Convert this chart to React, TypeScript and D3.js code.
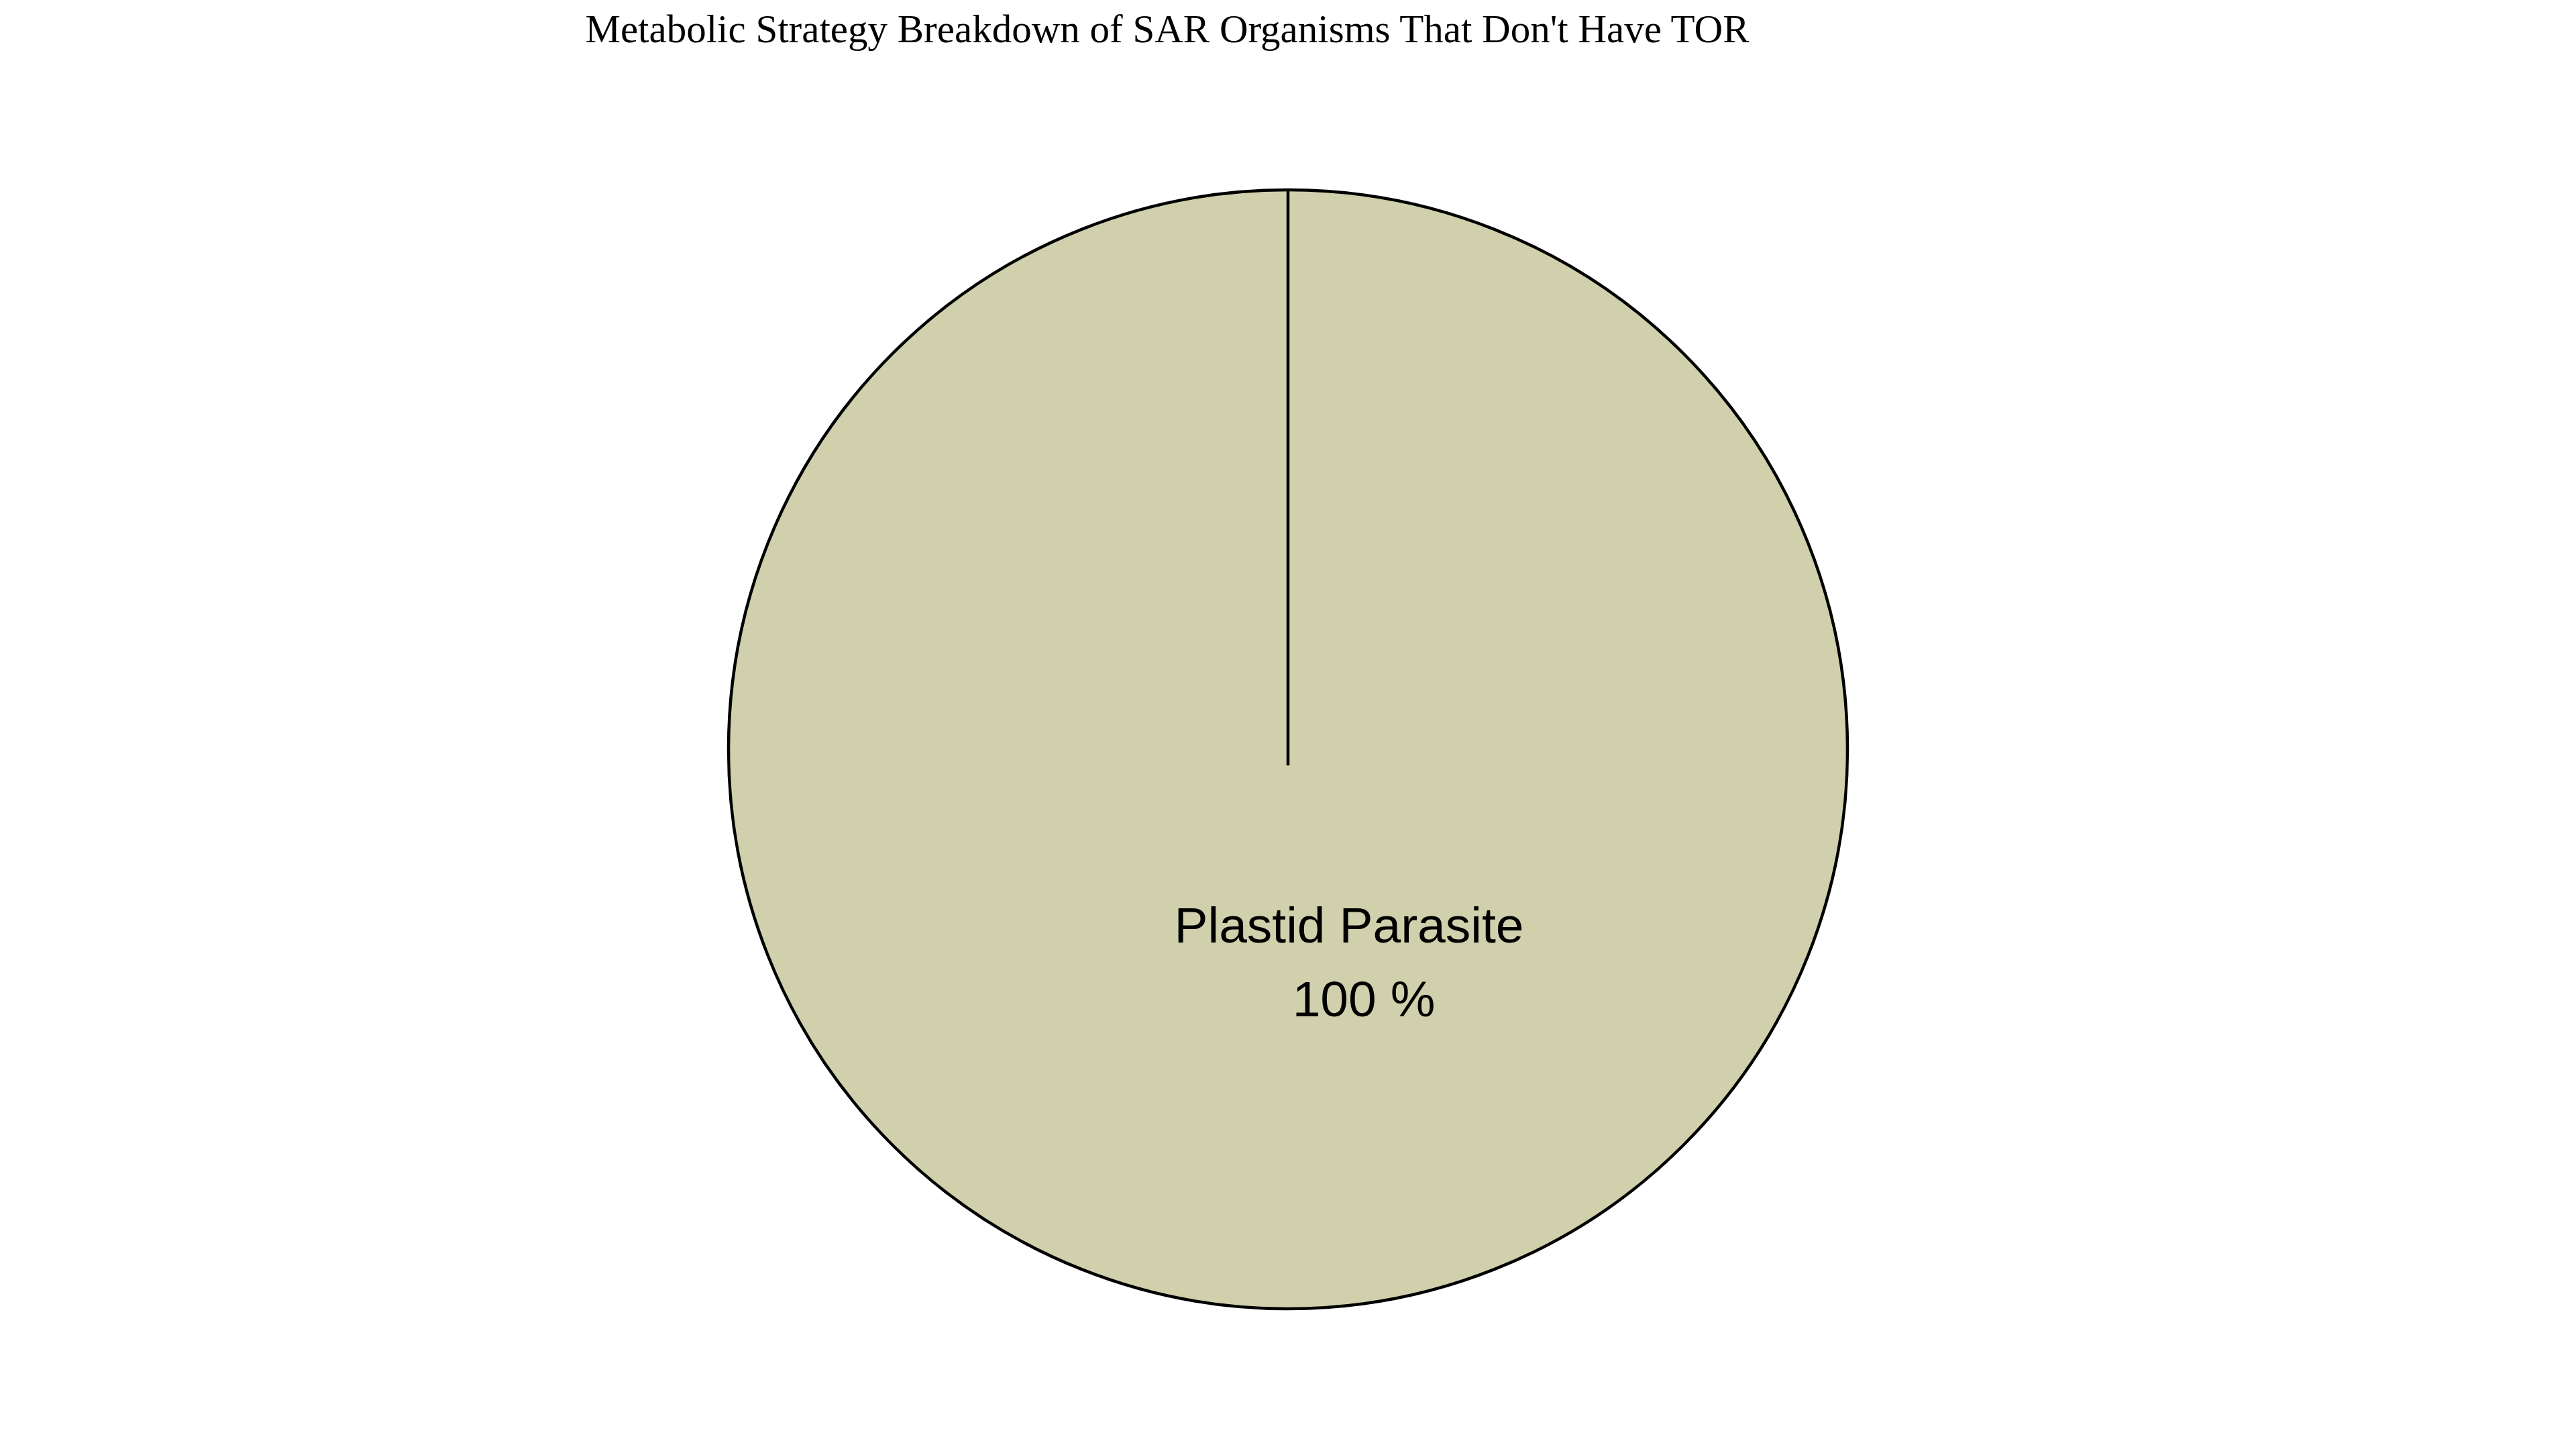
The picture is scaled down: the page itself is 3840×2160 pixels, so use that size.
import * as d3 from "d3";
import React from "react";

const W = 3840;
const H = 2160;

const title = "Metabolic Strategy Breakdown of SAR Organisms That Don't Have TOR";
const categories = ["Plastid Parasite"];
const values = [1];
const colors = ["#d0d0ac"];

const cx = 1920;
const cy = 1117;
const radius = 834;

export default function App() {
  const pie = d3.pie<number>().sort(null).value((d) => d);
  const arcs = pie(values);
  const arcGen = d3.arc<d3.PieArcDatum<number>>().innerRadius(0).outerRadius(radius);
  const total = d3.sum(values);

  return (
    <svg width={W} height={H} style={{ display: "block", position: "absolute", left: 0, top: 0 }}>
      <rect width={W} height={H} fill="#ffffff" />
      <text
        x={1740}
        y={63}
        textAnchor="middle"
        fontFamily="'Liberation Serif', 'Times New Roman', serif"
        fontSize={59}
        fill="#000"
      >
        {title}
      </text>
      <g transform={`translate(${cx},${cy})`}>
        {arcs.map((a, i) => (
          <g key={i}>
            <path d={arcGen(a) || ""} fill={colors[i]} stroke="#000" strokeWidth={4.5} />
            <line x1={0} y1={-radius} x2={0} y2={24} stroke="#000" strokeWidth={4.5} />
            <text
              x={91}
              y={288}
              textAnchor="middle"
              fontFamily="'Liberation Sans', Arial, sans-serif"
              fontSize={75}
              fill="#000"
            >
              {categories[i]}
            </text>
            <text
              x={113}
              y={398}
              textAnchor="middle"
              fontFamily="'Liberation Sans', Arial, sans-serif"
              fontSize={75}
              fill="#000"
            >
              {`${Math.round((a.value / total) * 100)} %`}
            </text>
          </g>
        ))}
      </g>
    </svg>
  );
}
